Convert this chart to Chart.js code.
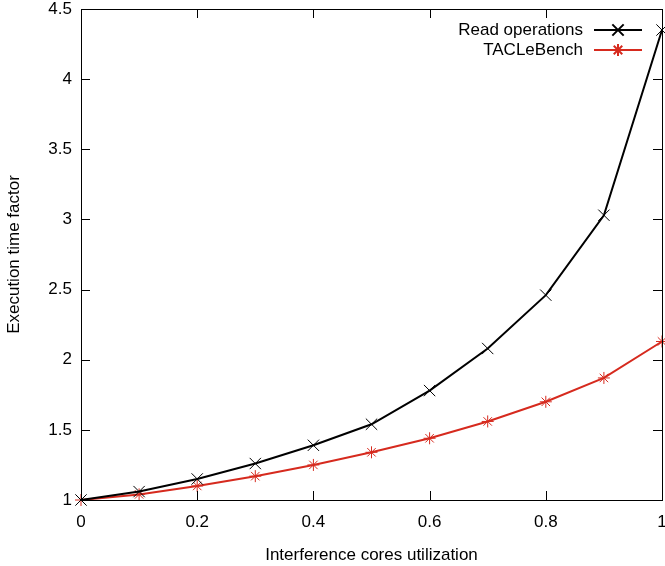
<!DOCTYPE html>
<html>
<head>
<meta charset="utf-8">
<script src="https://cdn.jsdelivr.net/npm/chart.js@4"></script>
<style>
  html, body { margin: 0; padding: 0; background: #fff; }
  #wrap { width: 665px; height: 566px; }
</style>
</head>
<body>
<div id="wrap"><canvas id="execChart" width="665" height="566"></canvas></div>
<script>
const utilization = [0, 0.1, 0.2, 0.3, 0.4, 0.5, 0.6, 0.7, 0.8, 0.9, 1.0];
const readOps = [1.0, 1.06, 1.15, 1.26, 1.39, 1.54, 1.78, 2.08, 2.46, 3.03, 4.35];
const tacle = [1.0, 1.04, 1.10, 1.17, 1.25, 1.34, 1.44, 1.56, 1.70, 1.87, 2.13];
const xTicks = [0, 0.2, 0.4, 0.6, 0.8, 1];
const yTicks = [1, 1.5, 2, 2.5, 3, 3.5, 4, 4.5];

const FONT = "'Liberation Sans', Arial, sans-serif";
const canvas = document.getElementById("execChart");

// inward ticks on all four sides + border frame, like gnuplot
const frameTicks = {
    id: 'frameTicks',
    afterDatasetsDraw(chart) {
        const ctx = chart.ctx;
        const a = chart.chartArea;
        const x = chart.scales.x, y = chart.scales.y;
        const len = 9;
        ctx.save();
        ctx.strokeStyle = '#000';
        ctx.lineWidth = 1;
        ctx.beginPath();
        xTicks.forEach(v => {
            const px = Math.round(x.getPixelForValue(v)) + 0.5;
            ctx.moveTo(px, a.bottom); ctx.lineTo(px, a.bottom - len);
            ctx.moveTo(px, a.top); ctx.lineTo(px, a.top + len);
        });
        yTicks.forEach(v => {
            const py = Math.round(y.getPixelForValue(v)) + 0.5;
            ctx.moveTo(a.left, py); ctx.lineTo(a.left + len, py);
            ctx.moveTo(a.right, py); ctx.lineTo(a.right - len, py);
        });
        ctx.stroke();
        ctx.strokeRect(Math.round(a.left) + 0.5, Math.round(a.top) + 0.5,
            Math.round(a.right - a.left), Math.round(a.bottom - a.top));
        ctx.restore();
    }
};

// gnuplot style key: text right-aligned, then line sample with marker
const keyBox = {
    id: 'keyBox',
    afterDatasetsDraw(chart) {
        const ctx = chart.ctx;
        const a = chart.chartArea;
        ctx.save();
        ctx.font = '17px ' + FONT;
        ctx.textAlign = 'right';
        ctx.textBaseline = 'middle';
        chart.data.datasets.forEach((ds, i) => {
            const yy = a.top + 21 + i * 20;
            const x1 = a.right - 68, x2 = a.right - 20;
            ctx.fillStyle = '#000';
            ctx.fillText(ds.label, x1 - 11, yy);
            ctx.strokeStyle = ds.borderColor;
            ctx.lineWidth = 2;
            ctx.beginPath();
            ctx.moveTo(x1, yy); ctx.lineTo(x2, yy);
            ctx.stroke();
            ctx.strokeStyle = ds.pointBorderColor;
            Chart.helpers.drawPoint(ctx, {
                pointStyle: ds.pointStyle,
                radius: ds.pointRadius,
                borderWidth: 1
            }, (x1 + x2) / 2, yy);
        });
        ctx.restore();
    }
};

function noPad(s) {
    s.paddingTop = 0; s.paddingBottom = 0;
    s.paddingLeft = 0; s.paddingRight = 0;
}

new Chart(canvas.getContext('2d'), {
    type: 'line',
    data: {
        labels: utilization,
        datasets: [{
            label: 'Read operations',
            data: utilization.map((u, i) => ({ x: u, y: readOps[i] })),
            borderColor: '#000000',
            backgroundColor: '#000000',
            borderWidth: 2,
            pointStyle: 'crossRot',
            pointRadius: 8,
            pointBorderWidth: 1,
            pointBorderColor: '#000000',
            tension: 0
        }, {
            label: 'TACLeBench',
            data: utilization.map((u, i) => ({ x: u, y: tacle[i] })),
            borderColor: '#d62a1e',
            backgroundColor: '#d62a1e',
            borderWidth: 2,
            pointStyle: 'star',
            pointRadius: 6,
            pointBorderWidth: 1,
            pointBorderColor: '#d62a1e',
            tension: 0
        }]
    },
    options: {
        responsive: false,
        animation: false,
        clip: false,
        layout: { autoPadding: false, padding: { top: 9, right: 3, left: 0, bottom: 0 } },
        plugins: {
            legend: { display: false },
            tooltip: { enabled: false }
        },
        scales: {
            x: {
                type: 'linear',
                min: 0, max: 1,
                afterBuildTicks: s => { s.ticks = xTicks.map(v => ({ value: v })); },
                afterFit: s => { s.height = 66; noPad(s); },
                grid: { display: false, drawTicks: false },
                border: { display: false },
                ticks: {
                    padding: 12,
                    color: '#000',
                    font: { family: FONT, size: 17 },
                    callback: v => String(v)
                },
                title: {
                    display: true,
                    text: 'Interference cores utilization',
                    color: '#000',
                    font: { family: FONT, size: 17 },
                    padding: { top: 8, bottom: 0 }
                }
            },
            y: {
                type: 'linear',
                min: 1, max: 4.5,
                afterBuildTicks: s => { s.ticks = yTicks.map(v => ({ value: v })); },
                afterFit: s => { s.width = 81; noPad(s); },
                grid: { display: false, drawTicks: false },
                border: { display: false },
                ticks: {
                    padding: 9,
                    color: '#000',
                    font: { family: FONT, size: 17 },
                    callback: v => String(v)
                },
                title: {
                    display: true,
                    text: 'Execution time factor',
                    color: '#000',
                    font: { family: FONT, size: 17 },
                    padding: { top: 4, bottom: 0 }
                }
            }
        }
    },
    plugins: [frameTicks, keyBox]
});
</script>
</body>
</html>
